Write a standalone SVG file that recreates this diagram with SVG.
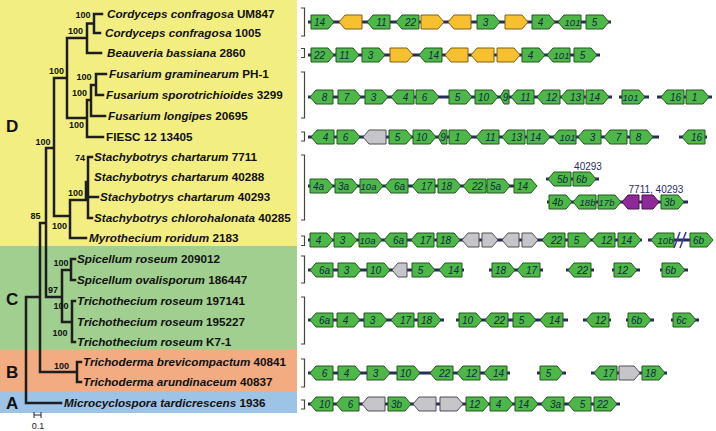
<svg xmlns="http://www.w3.org/2000/svg" xmlns:xlink="http://www.w3.org/1999/xlink" width="716" height="431" viewBox="0 0 716 431">
<style>
.sp{font-family:"Liberation Sans",Arial,sans-serif;font-size:11.7px;font-weight:bold;fill:#111}
.sp .i{font-style:italic}
.bs{font-family:"Liberation Sans",Arial,sans-serif;font-size:9px;font-weight:bold;fill:#111;text-anchor:middle}
.sec{font-family:"Liberation Sans",Arial,sans-serif;font-size:17px;font-weight:bold;fill:#111}
.tr{fill:none;stroke:#1e1e1e;stroke-width:2.5;stroke-linecap:square}
.br{fill:none;stroke:#444;stroke-width:1.2}
.bb{stroke:#2b2a5c;stroke-width:3;fill:none}
.g{fill:#4db848;stroke:#22561f;stroke-width:1}
.y{fill:#f6c030;stroke:#7d6210;stroke-width:1}
.s{fill:#c6c6ca;stroke:#4f4f55;stroke-width:1}
.p{fill:#8e2a98;stroke:#4a1050;stroke-width:1}
.t{font-family:"Liberation Sans",Arial,sans-serif;font-size:10px;font-style:italic;fill:#0f2a44;text-anchor:middle}
.t3{font-size:9.5px}
.lb{font-family:"Liberation Sans",Arial,sans-serif;font-size:10px;fill:#2a2a66;text-anchor:middle}
</style>
<defs>
<path id="R" d="M0,-7H17L23,0L17,7H0Z"/>
<path id="L" d="M0,0L6,-7H23V7H6Z"/>
</defs>
<g id="panels">
<rect x="0" y="0" width="297" height="246" fill="#f3ee82"/>
<rect x="0" y="246" width="297" height="103" fill="#a0cf8f"/>
<rect x="0" y="349" width="297" height="43" fill="#f3ab82"/>
<rect x="0" y="392" width="297" height="21" fill="#9dc3e6"/>
<text class="sec" x="6" y="132">D</text>
<text class="sec" x="6" y="305">C</text>
<text class="sec" x="6" y="378">B</text>
<text class="sec" x="6" y="409">A</text>
</g>
<g id="tree-connectors">
<path class="tr" d="M102,14H94V33H100 M94,23.5H87 M87,23.5V53H101 M87,38H67V118H87 M106,74H96V95H103 M96,85H91V116H105 M91,100H87V137H103 M67,78H54V216H70 M46,148H54 M70,200V238H86 M70,200H88 M92,157H88V218H92 M88,197H98 M86,182V200 M46,148V297H62 M40,223H46 M62,270V322 M62,270H71 M75,259H71V280H75 M62,322H72 M75,301H72V342H75 M40,223V372H77 M81,362H77V382H81 M26,297H40 M26,297V403H61"/>
<text class="bs" x="83" y="18">100</text>
<text class="bs" x="75.5" y="34">100</text>
<text class="bs" x="56.5" y="74">100</text>
<text class="bs" x="84" y="80">100</text>
<text class="bs" x="79.5" y="96">100</text>
<text class="bs" x="76.5" y="128">100</text>
<text class="bs" x="43" y="145">100</text>
<text class="bs" x="80" y="161">74</text>
<text class="bs" x="75.5" y="196">100</text>
<text class="bs" x="59.5" y="229">100</text>
<text class="bs" x="35.5" y="219">85</text>
<text class="bs" x="61" y="266">100</text>
<text class="bs" x="53" y="293">97</text>
<text class="bs" x="61" y="309">100</text>
<text class="bs" x="60" y="336">100</text>
<text class="bs" x="61.5" y="369">100</text>
<path d="M34,415H41 M34,412V418 M41,412V418" stroke="#222" stroke-width="1" fill="none"/>
<text x="38" y="429" font-family="Liberation Sans, Arial, sans-serif" font-size="9" text-anchor="middle" fill="#222">0.1</text>
</g>
<g id="taxa">
<g id="t1"><text class="sp" x="107" y="18"><tspan class="i">Cordyceps confragosa</tspan> UM847</text></g>
<g id="t2"><text class="sp" x="105" y="37"><tspan class="i">Cordyceps confragosa</tspan> 1005</text></g>
<g id="t3"><text class="sp" x="107" y="57"><tspan class="i">Beauveria bassiana</tspan> 2860</text></g>
<g id="t4"><text class="sp" x="109" y="78"><tspan class="i">Fusarium graminearum</tspan> PH-1</text></g>
<g id="t5"><text class="sp" x="106" y="99"><tspan class="i">Fusarium sporotrichioides</tspan> 3299</text></g>
<g id="t6"><text class="sp" x="108" y="120"><tspan class="i">Fusarium longipes</tspan> 20695</text></g>
<g id="t7"><text class="sp" x="106" y="141">FIESC 12 13405</text></g>
<g id="t8"><text class="sp" x="94" y="161"><tspan class="i">Stachybotrys chartarum</tspan> 7711</text></g>
<g id="t9"><text class="sp" x="94" y="181"><tspan class="i">Stachybotrys chartarum</tspan> 40288</text></g>
<g id="t10"><text class="sp" x="100" y="201"><tspan class="i">Stachybotrys chartarum</tspan> 40293</text></g>
<g id="t11"><text class="sp" x="94" y="222"><tspan class="i">Stachybotrys chlorohalonata</tspan> 40285</text></g>
<g id="t12"><text class="sp" x="89" y="242"><tspan class="i">Myrothecium roridum</tspan> 2183</text></g>
<g id="t13"><text class="sp" x="77" y="263"><tspan class="i">Spicellum roseum</tspan> 209012</text></g>
<g id="t14"><text class="sp" x="77" y="284"><tspan class="i">Spicellum ovalisporum</tspan> 186447</text></g>
<g id="t15"><text class="sp" x="77" y="305"><tspan class="i">Trichothecium roseum</tspan> 197141</text></g>
<g id="t16"><text class="sp" x="77" y="326"><tspan class="i">Trichothecium roseum</tspan> 195227</text></g>
<g id="t17"><text class="sp" x="77" y="346"><tspan class="i">Trichothecium roseum</tspan> K7-1</text></g>
<g id="t18"><text class="sp" x="83" y="366"><tspan class="i">Trichoderma brevicompactum</tspan> 40841</text></g>
<g id="t19"><text class="sp" x="83" y="386"><tspan class="i">Trichoderma arundinaceum</tspan> 40837</text></g>
<g id="t20"><text class="sp" x="64" y="407"><tspan class="i">Microcyclospora tardicrescens</tspan> 1936</text></g>
</g>
<g id="brackets">
<path class="br" d="M301,8H304.5V36H301 M301,48.5H304.5V57.5H301 M301,72H304.5V118H301 M301,132H304.5V141H301 M301,155H304.5V220H301 M301,236H304.5V245.5H301 M301,256H304.5V283H301 M301,297H304.5V344H301 M301,359H304.5V387H301 M301,400H304.5V409H301"/>
</g>
<g id="row1">
<path class="bb" d="M308,22H611"/>
<use href="#R" x="311" y="22" class="g"/><use href="#L" x="339" y="22" class="y"/><use href="#L" x="367" y="22" class="g"/><use href="#L" x="396" y="22" class="g"/><use href="#R" x="421" y="22" class="y"/><use href="#L" x="448" y="22" class="y"/><use href="#R" x="477" y="22" class="g"/><use href="#R" x="505" y="22" class="y"/><use href="#R" x="532" y="22" class="g"/><use href="#L" x="558" y="22" class="g"/><use href="#R" x="586" y="22" class="g"/>
<text class="t" x="319.5" y="25.5">14</text><text class="t" x="381.5" y="25.5">11</text><text class="t" x="410.5" y="25.5">22</text><text class="t" x="485.5" y="25.5">3</text><text class="t" x="540.5" y="25.5">4</text><text class="t t3" x="572.5" y="25.5">101</text><text class="t" x="594.5" y="25.5">5</text>
</g>
<g id="row2">
<path class="bb" d="M308,55H600"/>
<use href="#R" x="311" y="55" class="g"/><use href="#R" x="336" y="55" class="g"/><use href="#R" x="362" y="55" class="g"/><use href="#R" x="390" y="55" class="y"/><use href="#L" x="419" y="55" class="g"/><use href="#L" x="445" y="55" class="y"/><use href="#L" x="471" y="55" class="y"/><use href="#R" x="497" y="55" class="y"/><use href="#R" x="522" y="55" class="g"/><use href="#L" x="547" y="55" class="g"/><use href="#R" x="574" y="55" class="g"/>
<text class="t" x="319.5" y="58.5">22</text><text class="t" x="344.5" y="58.5">11</text><text class="t" x="370.5" y="58.5">3</text><text class="t" x="433.5" y="58.5">14</text><text class="t" x="530.5" y="58.5">4</text><text class="t t3" x="561.5" y="58.5">101</text><text class="t" x="582.5" y="58.5">5</text>
</g>
<g id="row3">
<path class="bb" d="M308,97H612 M619,97H649 M657,97H712"/>
<use href="#L" x="310" y="97" class="g"/><use href="#R" x="338" y="97" class="g"/><use href="#R" x="365" y="97" class="g"/><use href="#L" x="391" y="97" class="g"/><use href="#R" x="416" y="97" class="g"/><use href="#R" x="449" y="97" class="g"/><use href="#R" x="475" y="97" class="g"/>
<polygon class="g" points="500,97 504,90 509,90 509,104 504,104"/>
<use href="#L" x="511" y="97" class="g"/><use href="#L" x="537" y="97" class="g"/><use href="#L" x="561" y="97" class="g"/><use href="#R" x="586" y="97" class="g"/><use href="#R" x="622" y="97" class="g"/><use href="#L" x="661" y="97" class="g"/><use href="#R" x="686" y="97" class="g"/>
<text class="t" x="324.5" y="100.5">8</text><text class="t" x="346.5" y="100.5">7</text><text class="t" x="373.5" y="100.5">3</text><text class="t" x="405.5" y="100.5">4</text><text class="t" x="424.5" y="100.5">6</text><text class="t" x="457.5" y="100.5">5</text><text class="t" x="483.5" y="100.5">10</text><text class="t" x="505.5" y="100.5" font-size="9">9</text><text class="t" x="525.5" y="100.5">11</text><text class="t" x="551.5" y="100.5">12</text><text class="t" x="575.5" y="100.5">13</text><text class="t" x="594.5" y="100.5">14</text><text class="t t3" x="630.5" y="100.5">101</text><text class="t" x="675.5" y="100.5">16</text><text class="t" x="694.5" y="100.5">1</text>
</g>
<g id="row4">
<path class="bb" d="M308,137H659 M679,137H707"/>
<use href="#L" x="311" y="137" class="g"/><use href="#R" x="337" y="137" class="g"/><use href="#L" x="363" y="137" class="s"/><use href="#R" x="389" y="137" class="g"/><use href="#R" x="413" y="137" class="g"/>
<polygon class="g" points="438,137 442,130 447,130 447,144 442,144"/>
<use href="#R" x="449" y="137" class="g"/><use href="#L" x="476" y="137" class="g"/><use href="#L" x="502" y="137" class="g"/><use href="#R" x="527" y="137" class="g"/><use href="#L" x="553" y="137" class="g"/><use href="#L" x="578" y="137" class="g"/><use href="#L" x="604" y="137" class="g"/><use href="#R" x="630" y="137" class="g"/><use href="#L" x="682" y="137" class="g"/>
<text class="t" x="325.5" y="140.5">4</text><text class="t" x="345.5" y="140.5">6</text><text class="t" x="397.5" y="140.5">5</text><text class="t" x="421.5" y="140.5">10</text><text class="t" x="443" y="140.5" font-size="9">9</text><text class="t" x="457.5" y="140.5">1</text><text class="t" x="490.5" y="140.5">11</text><text class="t" x="516.5" y="140.5">13</text><text class="t" x="535.5" y="140.5">14</text><text class="t t3" x="567.5" y="140.5">101</text><text class="t" x="592.5" y="140.5">3</text><text class="t" x="618.5" y="140.5">7</text><text class="t" x="638.5" y="140.5">8</text><text class="t" x="696.5" y="140.5">16</text>
</g>
<g id="row5">
<path class="bb" d="M308,186H536"/>
<use href="#R" x="310" y="186" class="g"/><use href="#R" x="335" y="186" class="g"/><use href="#R" x="360" y="186" class="g"/><use href="#L" x="385" y="186" class="g"/><use href="#L" x="412" y="186" class="g"/><use href="#R" x="438" y="186" class="g"/><use href="#L" x="463" y="186" class="g"/><use href="#R" x="487" y="186" class="g"/><use href="#R" x="514" y="186" class="g"/>
<text class="t" x="318.5" y="189.5">4a</text><text class="t" x="343.5" y="189.5">3a</text><text class="t t3" x="368.5" y="189.5">10a</text><text class="t" x="399.5" y="189.5">6a</text><text class="t" x="426.5" y="189.5">17</text><text class="t" x="446.5" y="189.5">18</text><text class="t" x="477.5" y="189.5">22</text><text class="t" x="495.5" y="189.5">5a</text><text class="t" x="522.5" y="189.5">14</text>
</g>
<g id="row5b">
<path class="bb" d="M546,179H599"/>
<use href="#L" x="548" y="179" class="g"/><use href="#R" x="573" y="179" class="g"/>
<text class="t" x="562.5" y="182.5">5b</text><text class="t" x="581.5" y="182.5">6b</text>
<text class="lb" x="588" y="170">40293</text>
</g>
<g id="row5c">
<path class="bb" d="M547,202H688"/>
<use href="#R" x="549" y="202" class="g"/><use href="#L" x="573" y="202" class="g"/><use href="#R" x="598" y="202" class="g"/>
<polygon class="p" points="622,202 628,195 639,195 639,209 628,209"/>
<polygon class="p" points="642,195 653,195 659,202 653,209 642,209"/>
<use href="#R" x="661" y="202" class="g"/>
<text class="t" x="557.5" y="205.5">4b</text><text class="t t3" x="587.5" y="205.5">18b</text><text class="t t3" x="606.5" y="205.5">17b</text><text class="t" x="669.5" y="205.5">3b</text>
<text class="lb" x="656" y="193">7711, 40293</text>
</g>
<g id="row6">
<path class="bb" d="M308,240H642 M648,240H690"/>
<path d="M674,248L680,232 M680,248L686,232" stroke="#3d3aa8" stroke-width="1.6" fill="none"/>
<use href="#R" x="310" y="240" class="g"/><use href="#R" x="334" y="240" class="g"/><use href="#R" x="359" y="240" class="g"/><use href="#L" x="384" y="240" class="g"/><use href="#L" x="411" y="240" class="g"/><use href="#R" x="437" y="240" class="g"/>
<polygon class="s" points="462,240 468,233 479,233 479,247 468,247"/>
<polygon class="s" points="482,233 492,233 498,240 492,247 482,247"/>
<polygon class="s" points="502,240 508,233 519,233 519,247 508,247"/>
<polygon class="s" points="522,233 532,233 538,240 532,247 522,247"/>
<use href="#L" x="542" y="240" class="g"/><use href="#R" x="568" y="240" class="g"/><use href="#L" x="592" y="240" class="g"/><use href="#R" x="618" y="240" class="g"/><use href="#L" x="651" y="240" class="g"/><use href="#R" x="690" y="240" class="g"/>
<text class="t" x="318.5" y="243.5">4</text><text class="t" x="342.5" y="243.5">3</text><text class="t t3" x="367.5" y="243.5">10a</text><text class="t" x="398.5" y="243.5">6a</text><text class="t" x="425.5" y="243.5">17</text><text class="t" x="445.5" y="243.5">18</text><text class="t" x="556.5" y="243.5">22</text><text class="t" x="576.5" y="243.5">5</text><text class="t" x="606.5" y="243.5">12</text><text class="t" x="626.5" y="243.5">14</text><text class="t t3" x="665.5" y="243.5">10b</text><text class="t" x="698.5" y="243.5">6b</text>
</g>
<g id="row7">
<path class="bb" d="M308,270H464 M489,270H543 M566,270H594 M612,270H640 M660,270H688"/>
<use href="#L" x="310" y="270" class="g"/><use href="#R" x="338" y="270" class="g"/><use href="#R" x="367" y="270" class="g"/>
<polygon class="s" points="392,270 398,263 407,263 407,277 398,277"/>
<use href="#R" x="412" y="270" class="g"/><use href="#L" x="439" y="270" class="g"/><use href="#R" x="492" y="270" class="g"/><use href="#L" x="517" y="270" class="g"/><use href="#L" x="568" y="270" class="g"/><use href="#R" x="614" y="270" class="g"/><use href="#R" x="662" y="270" class="g"/>
<text class="t" x="324.5" y="273.5">6a</text><text class="t" x="346.5" y="273.5">3</text><text class="t" x="375.5" y="273.5">10</text><text class="t" x="420.5" y="273.5">5</text><text class="t" x="453.5" y="273.5">14</text><text class="t" x="500.5" y="273.5">18</text><text class="t" x="531.5" y="273.5">17</text><text class="t" x="582.5" y="273.5">22</text><text class="t" x="622.5" y="273.5">12</text><text class="t" x="670.5" y="273.5">6b</text>
</g>
<g id="row8">
<path class="bb" d="M308,320H444 M456,320H568 M583,320H611 M626,320H654 M671,320H699"/>
<use href="#L" x="310" y="320" class="g"/><use href="#R" x="337" y="320" class="g"/><use href="#R" x="364" y="320" class="g"/><use href="#L" x="391" y="320" class="g"/><use href="#R" x="418" y="320" class="g"/><use href="#R" x="459" y="320" class="g"/><use href="#L" x="485" y="320" class="g"/><use href="#R" x="513" y="320" class="g"/><use href="#L" x="540" y="320" class="g"/><use href="#L" x="586" y="320" class="g"/><use href="#R" x="628" y="320" class="g"/><use href="#R" x="673" y="320" class="g"/>
<text class="t" x="324.5" y="323.5">6a</text><text class="t" x="345.5" y="323.5">4</text><text class="t" x="372.5" y="323.5">3</text><text class="t" x="405.5" y="323.5">17</text><text class="t" x="426.5" y="323.5">18</text><text class="t" x="467.5" y="323.5">10</text><text class="t" x="499.5" y="323.5">22</text><text class="t" x="521.5" y="323.5">5</text><text class="t" x="554.5" y="323.5">14</text><text class="t" x="600.5" y="323.5">12</text><text class="t" x="636.5" y="323.5">6b</text><text class="t" x="681.5" y="323.5">6c</text>
</g>
<g id="row9">
<path class="bb" d="M308,373H510 M537,373H566 M591,373H667"/>
<use href="#L" x="310" y="373" class="g"/><use href="#R" x="338" y="373" class="g"/><use href="#R" x="367" y="373" class="g"/><use href="#R" x="397" y="373" class="g"/><use href="#L" x="430" y="373" class="g"/><use href="#L" x="457" y="373" class="g"/><use href="#L" x="484" y="373" class="g"/><use href="#R" x="540" y="373" class="g"/><use href="#L" x="594" y="373" class="g"/>
<polygon class="s" points="619,366 634,366 640,373 634,380 619,380"/>
<use href="#R" x="642" y="373" class="g"/>
<text class="t" x="324.5" y="376.5">6</text><text class="t" x="346.5" y="376.5">4</text><text class="t" x="375.5" y="376.5">3</text><text class="t" x="405.5" y="376.5">10</text><text class="t" x="444.5" y="376.5">22</text><text class="t" x="471.5" y="376.5">12</text><text class="t" x="498.5" y="376.5">14</text><text class="t" x="548.5" y="376.5">5</text><text class="t" x="608.5" y="376.5">17</text><text class="t" x="650.5" y="376.5">18</text>
</g>
<g id="row10">
<path class="bb" d="M308,404H620"/>
<use href="#L" x="310" y="404" class="g"/><use href="#L" x="336" y="404" class="g"/><use href="#L" x="362" y="404" class="s"/><use href="#R" x="388" y="404" class="g"/><use href="#L" x="413" y="404" class="s"/><use href="#R" x="440" y="404" class="s"/><use href="#R" x="466" y="404" class="g"/><use href="#R" x="490" y="404" class="g"/><use href="#R" x="515" y="404" class="g"/><use href="#L" x="541" y="404" class="g"/><use href="#L" x="568" y="404" class="g"/><use href="#R" x="594" y="404" class="g"/>
<text class="t" x="324.5" y="407.5">10</text><text class="t" x="350.5" y="407.5">6</text><text class="t" x="396.5" y="407.5">3b</text><text class="t" x="474.5" y="407.5">12</text><text class="t" x="498.5" y="407.5">4</text><text class="t" x="523.5" y="407.5">14</text><text class="t" x="555.5" y="407.5">3a</text><text class="t" x="582.5" y="407.5">5</text><text class="t" x="602.5" y="407.5">22</text>
</g>
</svg>
